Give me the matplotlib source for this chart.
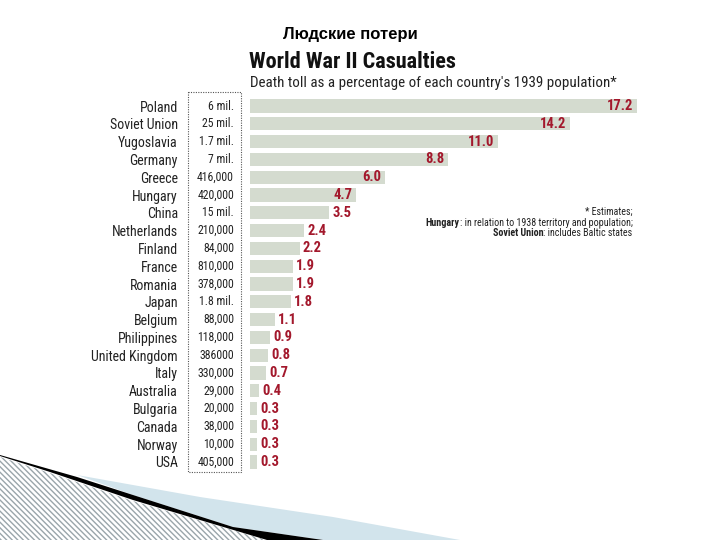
import numpy as np
import matplotlib
matplotlib.use("Agg")
import matplotlib.pyplot as plt
from matplotlib import font_manager as fm
from matplotlib.patches import Rectangle, Polygon

countries = ['Poland', 'Soviet Union', 'Yugoslavia', 'Germany', 'Greece', 'Hungary',
             'China', 'Netherlands', 'Finland', 'France', 'Romania', 'Japan',
             'Belgium', 'Philippines', 'United Kingdom', 'Italy', 'Australia',
             'Bulgaria', 'Canada', 'Norway', 'USA']
deaths = ['6 mil.', '25 mil.', '1.7 mil.', '7 mil.', '416,000', '420,000',
          '15 mil.', '210,000', '84,000', '810,000', '378,000', '1.8 mil.',
          '88,000', '118,000', '386000', '330,000', '29,000',
          '20,000', '38,000', '10,000', '405,000']
percent = [17.2, 14.2, 11.0, 8.8, 6.0, 4.7, 3.5, 2.4, 2.2, 1.9, 1.9, 1.8,
           1.1, 0.9, 0.8, 0.7, 0.4, 0.3, 0.3, 0.3, 0.3]

installed = {f.name for f in fm.fontManager.ttflist}


def pick(cands):
    for c in cands:
        if c in installed:
            return [c, 'DejaVu Sans']
    return ['DejaVu Sans']


narrow = pick(['Roboto Condensed', 'PT Sans Narrow', 'IBM Plex Sans Condensed',
               'Archivo Narrow', 'Liberation Sans Narrow'])
headline = pick(['Roboto Condensed', 'Oswald', 'PT Sans Narrow', 'IBM Plex Sans Condensed'])

bar_color = '#d4dbcf'
red = '#a3182c'
ink = '#222222'

fig = plt.figure(figsize=(7.2, 5.4), dpi=100)
W, H = 720, 540

# axes: x=0 at 250px, 22.5 px per percent; rows 17.8 px apart from y=106
left, right = 250, 250 + 22.5 * 20
top, bottom = 106 - 8.9, 462 + 8.9
ax = fig.add_axes([left / W, 1 - bottom / H, (right - left) / W, (bottom - top) / H])
y = np.arange(len(countries))
ax.barh(y, percent, height=0.74, color=bar_color)
ax.set_xlim(0, 20)
ax.set_ylim(len(countries) - 0.5, -0.5)
ax.set_xticks([])
ax.set_yticks(y)
ax.set_yticklabels(countries, family=narrow, fontsize=10, color=ink)
ax.tick_params(axis='y', length=0, pad=52)
for s in ax.spines.values():
    s.set_visible(False)

for yi, v in zip(y, percent):
    if v > 4:
        ax.text(v - 0.15, yi, f'{v:.1f}', ha='right', va='center', color=red,
                fontsize=10.5, fontweight='bold', family=narrow)
    else:
        ax.text(v + 0.15, yi, f'{v:.1f}', ha='left', va='center', color=red,
                fontsize=10.5, fontweight='bold', family=narrow)

# death counts column inside a dotted box
for yi, d in zip(y, deaths):
    ax.text(-0.71, yi, d, ha='right', va='center', fontsize=8.5, family=narrow,
            color=ink, clip_on=False)

ax.add_patch(Rectangle((-2.76, -0.79), 2.36, 21.35, fill=False, ec='#555555',
                       lw=0.8, ls=(0, (1, 1.2)), clip_on=False))

# footnote
t1 = ax.text(17.0, 5.95, '* Estimates;', ha='right', va='center', fontsize=7.2,
             family=narrow, color=ink)
t2 = ax.text(17.0, 6.55, ': in relation to 1938 territory and population;',
             ha='right', va='center', fontsize=7.2, family=narrow, color=ink)
ax.annotate('Hungary', xy=(0, 0), xycoords=t2, ha='right', va='bottom',
            fontsize=7.2, fontweight='bold', family=narrow, color=ink)
t3 = ax.text(17.0, 7.15, ': includes Baltic states', ha='right', va='center',
             fontsize=7.2, family=narrow, color=ink)
ax.annotate('Soviet Union', xy=(0, 0), xycoords=t3, ha='right', va='bottom',
            fontsize=7.2, fontweight='bold', family=narrow, color=ink)

# titles
fig.text(350 / W, 1 - 35 / H, 'Людские потери', ha='center', va='center',
         fontsize=12, fontweight='bold', family=['Liberation Sans', 'DejaVu Sans'])
fig.text(249 / W, 1 - 62 / H, 'World War II Casualties', ha='left', va='center',
         fontsize=16, fontweight='bold', family=headline, color='#111111')
fig.text(250 / W, 1 - 83 / H, "Death toll as a percentage of each country's 1939 population*",
         ha='left', va='center', fontsize=10.8, family=narrow, color=ink)

# slide decoration bottom-left
def fpts(pts):
    return [(px / W, 1 - py / H) for px, py in pts]

fig.patches.append(Polygon(fpts([(0, 457), (50, 473), (133, 501), (267, 540), (0, 540)]),
                           closed=True, transform=fig.transFigure, fc='white',
                           ec='#9aa5aa', hatch='\\\\\\\\\\\\', lw=0))
fig.patches.append(Polygon(fpts([(77, 475), (200, 497), (333, 517), (460, 540),
                                 (323, 540), (233, 527), (133, 495)]),
                           closed=True, transform=fig.transFigure, fc='#d2e4ec', lw=0))
fig.patches.append(Polygon(fpts([(0, 455), (77, 477), (133, 495), (233, 527), (323, 540),
                                 (267, 540), (133, 500), (50, 472), (0, 456)]),
                           closed=True, transform=fig.transFigure, fc='black', lw=0))

fig.savefig('out.png', dpi=100)
